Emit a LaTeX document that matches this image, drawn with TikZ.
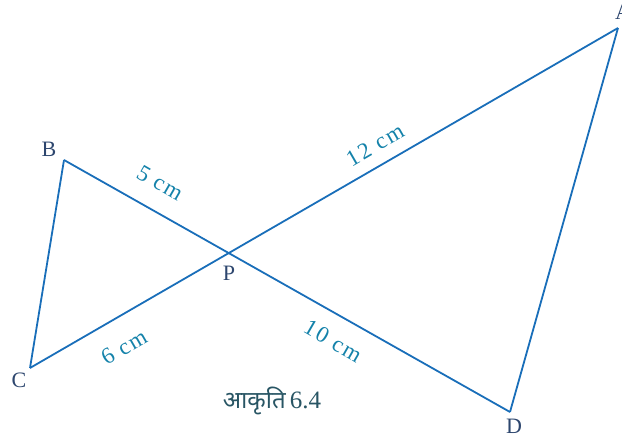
\documentclass[tikz,border=0pt]{standalone}
\usepackage{fontspec}
\setmainfont{Liberation Serif}
\newfontfamily\devfont[Script=Devanagari]{Noto Sans}
\begin{document}
\begin{tikzpicture}[x=1pt,y=-1pt,
  seg/.style={draw=lineblue,line width=1.8pt},
  vlabel/.style={text=vtext,font=\fontsize{22}{22}\selectfont,inner sep=0pt},
  mlabel/.style={text=mtext,font=\fontsize{23}{23}\selectfont\addfontfeature{LetterSpace=8},inner sep=0pt}]
\definecolor{lineblue}{RGB}{25,110,185}
\definecolor{vtext}{RGB}{45,70,110}
\definecolor{mtext}{RGB}{20,130,170}
\definecolor{captext}{RGB}{40,85,100}
\useasboundingbox (0,0) rectangle (622,441);
\coordinate (B) at (64,160);
\coordinate (C) at (30,368);
\coordinate (P) at (228,254);
\coordinate (D) at (510,412);
\coordinate (A) at (618,28);
\draw[seg] (B) -- (D);
\draw[seg] (C) -- (A);
\draw[seg] (B) -- (C);
\draw[seg] (A) -- (D);
\node[vlabel] (lB) at (49,149) {B};
\node[vlabel] (lC) at (19,380) {C};
\node[vlabel] (lP) at (229,273) {P};
\node[vlabel] (lD) at (514,426) {D};
\node[vlabel,anchor=west] (lA) at (615,12) {A};
\node[mlabel,rotate=-30] (m5) at (160,183) {5 cm};
\node[mlabel,rotate=30] (m12) at (375,145) {12 cm};
\node[mlabel,rotate=30] (m6) at (124,347) {6 cm};
\node[mlabel,rotate=-30] (m10) at (333,341) {10 cm};
\node[text=captext,inner sep=0pt] (cap) at (272,401) {{\devfont\fontsize{24}{24}\selectfont आकृति}\hspace{4pt}{\fontsize{25}{25}\selectfont 6.4}};
\end{tikzpicture}
\end{document}
